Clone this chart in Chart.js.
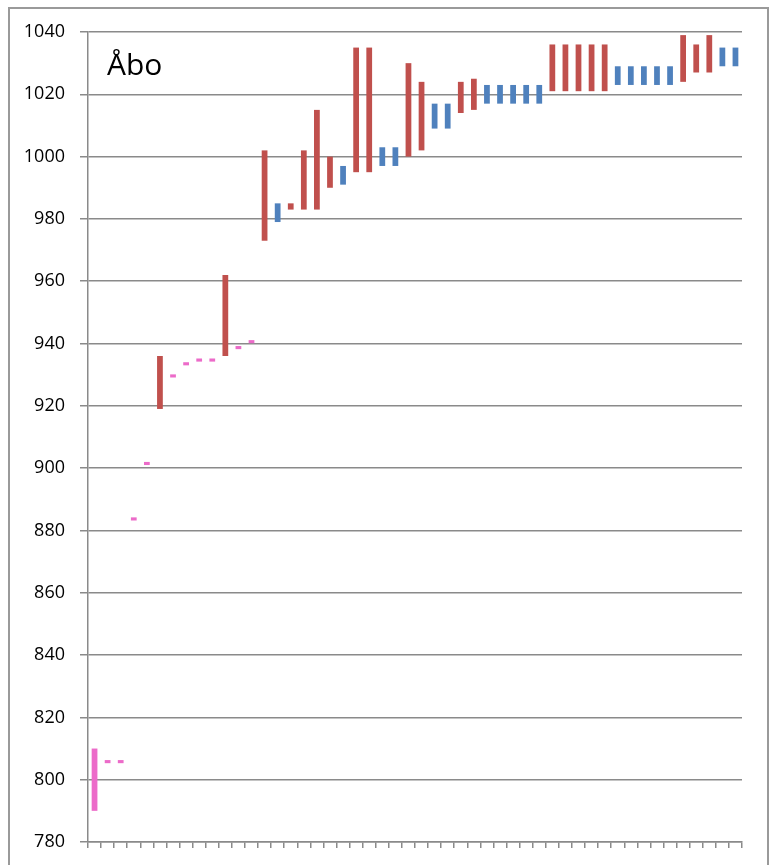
<!DOCTYPE html>
<html>
<head>
<meta charset="utf-8">
<script src="https://cdn.jsdelivr.net/npm/chart.js@4/dist/chart.umd.min.js"></script>
<style>
  html, body { margin: 0; padding: 0; background: #fff; overflow: hidden; }
  #frame { position: absolute; left: 8px; top: 7px; width: 757px; height: 900px; border: 2px solid #9a9a9a; }
  #wrap { position: absolute; left: 0; top: 0; width: 771px; height: 865px; }
</style>
</head>
<body>
<div id="frame"></div>
<div id="wrap"><canvas id="chart"></canvas></div>
<script>
// Data
const categories = ['1','2','3','4','5','6','7','8','9','10','11','12','13','14','15','16','17','18','19','20',
    '21','22','23','24','25','26','27','28','29','30','31','32','33','34','35','36','37','38','39','40',
    '41','42','43','44','45','46','47','48','49','50'];

const yTicks = [780, 800, 820, 840, 860, 880, 900, 920, 940, 960, 980, 1000, 1020, 1040];

// pink: early readings, [low, high]
const pinkBars = [
    [790, 810], [805.3, 806.3], [805.3, 806.3], [883.2, 884.2], [901, 902], null,
    [929.1, 930.1], [933, 934], [934.2, 935.2], [934.2, 935.2], null,
    [938.2, 939.2], [940.1, 941.1]
];

// red bars, [low, high]
const redBars = [
    null, null, null, null, null, [919, 936], null, null, null, null,
    [936, 962], null, null, [973, 1002], null, [983, 985], [983, 1002], [983, 1015], [990, 1000], null,
    [995, 1035], [995, 1035], null, null, [1000, 1030], [1002, 1024], null, null, [1014, 1024], [1015, 1025],
    null, null, null, null, null, [1021, 1036], [1021, 1036], [1021, 1036], [1021, 1036], [1021, 1036],
    null, null, null, null, null, [1024, 1039], [1027, 1036], [1027, 1039], null, null
];

// blue bars, [low, high]
const blueBars = [
    null, null, null, null, null, null, null, null, null, null,
    null, null, null, null, [979, 985], null, null, null, null, [991, 997],
    null, null, [997, 1003], [997, 1003], null, null, [1009, 1017], [1009, 1017], null, null,
    [1017, 1023], [1017, 1023], [1017, 1023], [1017, 1023], [1017, 1023], null, null, null, null, null,
    [1023, 1029], [1023, 1029], [1023, 1029], [1023, 1029], [1023, 1029], null, null, null, [1029, 1035], [1029, 1035]
];

const titleText = 'Åbo';

// Title inside the plot area
const insideTitle = {
    id: 'insideTitle',
    afterDraw(chart) {
        const { ctx, chartArea } = chart;
        ctx.save();
        ctx.font = '30px "Open Sans"';
        ctx.fillStyle = '#000';
        ctx.textBaseline = 'alphabetic';
        ctx.fillText(titleText, chartArea.left + 19, chartArea.top + 43);
        ctx.restore();
    }
};

const barOpts = { grouped: false, categoryPercentage: 1, barPercentage: 0.44, borderWidth: 0 };

const ctx = document.getElementById('chart').getContext('2d');
const chart = new Chart(ctx, {
    type: 'bar',
    data: {
        labels: categories,
        datasets: [
            Object.assign({ label: 'pink', data: pinkBars, backgroundColor: '#EC6BC9' }, barOpts),
            Object.assign({ label: 'red', data: redBars, backgroundColor: '#C0504D' }, barOpts),
            Object.assign({ label: 'blue', data: blueBars, backgroundColor: '#4F81BD' }, barOpts)
        ]
    },
    options: {
        responsive: true,
        maintainAspectRatio: false,
        animation: false,
        layout: { padding: { left: 24, right: 29, top: 32, bottom: 17 } },
        plugins: {
            legend: { display: false },
            tooltip: { enabled: false }
        },
        scales: {
            x: {
                grid: {
                    display: true,
                    offset: true,
                    drawOnChartArea: false,
                    drawTicks: true,
                    tickLength: 6,
                    color: '#8a8a8a',
                    lineWidth: 1.5
                },
                border: { display: true, color: '#8a8a8a', width: 1.5 },
                ticks: { display: false },
                afterFit(axis) {
                    axis.height = 6;
                }
            },
            y: {
                min: 780,
                max: 1040,
                afterBuildTicks(axis) {
                    axis.ticks = yTicks.map(v => ({ value: v }));
                },
                afterFit(axis) {
                    axis.width = 64;
                    axis.paddingTop = 0;
                    axis.paddingBottom = 0;
                },
                grid: {
                    color: '#8a8a8a',
                    lineWidth: 1.5,
                    drawTicks: true,
                    tickLength: 8
                },
                border: { display: true, color: '#8a8a8a', width: 1.5 },
                ticks: {
                    padding: 15,
                    color: '#000',
                    font: { family: '"Open Sans"', size: 18 },
                    callback: v => String(v)
                }
            }
        }
    },
    plugins: [insideTitle]
});
</script>
</body>
</html>
